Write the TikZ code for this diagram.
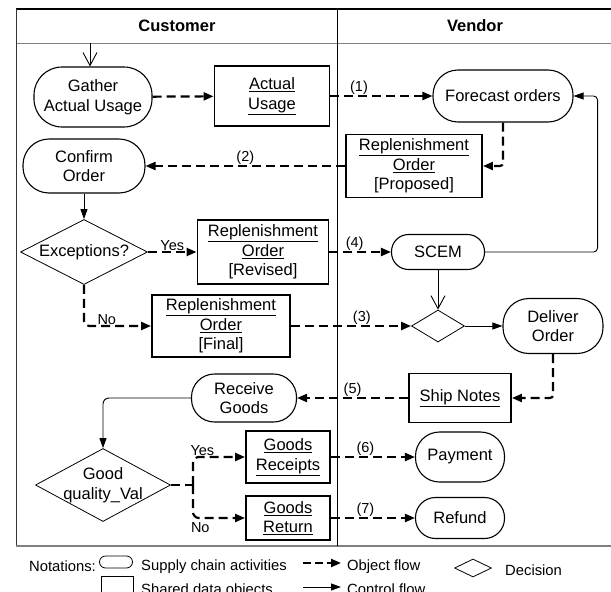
\documentclass[tikz,border=0pt]{standalone}
\usepackage{fontspec}
\setmainfont{Liberation Sans}
\usetikzlibrary{arrows.meta, positioning, shapes.geometric, calc}

\begin{document}
\begin{tikzpicture}[x=1pt,y=-1pt,
    font=\fontsize{16.5}{19.5}\selectfont,
    act/.style={draw,line width=1.1pt,rounded corners=#1,align=center,inner sep=0pt},
    act/.default=24pt,
    data/.style={draw,line width=1.9pt,align=center,inner sep=0pt},
    dec/.style={draw,diamond,line width=0.8pt,inner sep=0pt},
    obj/.style={line width=2.2pt,dash pattern=on 9pt off 5pt,
                -{Triangle[length=10pt,width=8pt]}},
    ctrl/.style={line width=0.9pt,-{Triangle[length=10pt,width=7pt]}},
    open/.style={line width=0.9pt,-{Straight Barb[length=13pt,width=14pt]}},
    lbl/.style={font=\fontsize{14.5}{16}\selectfont,inner sep=0pt},
    lane/.style={font=\bfseries\fontsize{16.5}{19}\selectfont},
    note/.style={font=\fontsize{14.8}{17}\selectfont,inner sep=0pt}
  ]
    \useasboundingbox (0,0) rectangle (611,592);

    % swimlanes
    \draw[line width=1.8pt] (16,9) -- (611,9);
    \draw[gray,line width=1pt] (16,43) -- (611,43);
    \draw[black!80,line width=1pt] (16,9) -- (16,546);
    \draw[gray,line width=1.6pt] (16,546) -- (611,546);
    \draw[line width=0.8pt] (337,9) -- (337,546);
    \node[lane] (cust) at (177,26) {Customer};
    \node[lane] (vend) at (475,26) {Vendor};

    % activities and data objects
    \node[act=28pt,minimum width=118,minimum height=60] (gather) at (93,97) {Gather\\Actual Usage};
    \node[data,minimum width=115,minimum height=60] (usage) at (272,96)
      {\underline{Actual}\\\underline{Usage}};
    \node[act=25pt,minimum width=140,minimum height=52] (forecast) at (503,96) {Forecast orders};
    \node[data,minimum width=136,minimum height=63] (proposed) at (414,166)
      {\underline{Replenishment}\\\underline{Order}\\{[Proposed]}};
    \node[act=26pt,minimum width=122,minimum height=54] (confirm) at (84,166) {Confirm\\Order};
    \node[dec,minimum width=127,minimum height=65,label=center:Exceptions?] (exc) at (84,252) {};
    \node[data,minimum width=131,minimum height=64] (revised) at (263,252)
      {\underline{Replenishment}\\\underline{Order}\\{[Revised]}};
    \node[act=17pt,minimum width=93,minimum height=35] (scem) at (438,252) {SCEM};
    \node[dec,minimum width=53,minimum height=32] (join) at (438,326) {};
    \node[data,minimum width=138,minimum height=62] (final) at (221,326)
      {\underline{Replenishment}\\\underline{Order}\\{[Final]}};
    \node[act=26pt,minimum width=100,minimum height=55] (deliver) at (553,326) {Deliver\\Order};
    \node[data,minimum width=102,minimum height=49] (ship) at (460,398) {\underline{Ship Notes}};
    \node[act=23pt,minimum width=105,minimum height=48] (receive) at (244,398) {Receive\\Goods};
    \node[dec,minimum width=135,minimum height=73,
          label={[align=center]center:Good\\quality\_Val}] (quality) at (103,485) {};
    \node[data,minimum width=84,minimum height=52] (receipts) at (288,457)
      {\underline{Goods}\\\underline{Receipts}};
    \node[data,minimum width=84,minimum height=44] (goodsret) at (288,518)
      {\underline{Goods}\\\underline{Return}};
    \node[act=24pt,minimum width=89,minimum height=50] (payment) at (460,457) {Payment};
    \node[act=20pt,minimum width=89,minimum height=41] (refund) at (460,518) {Refund};

    % flows
    \coordinate (init) at (90,43);
    \draw[open] (init) -- (init |- gather.north);
    \draw[obj] (gather) -- (usage);
    \draw[obj] (usage) -- node[lbl,above,pos=.28] {(1)} (forecast);
    \draw[obj,rounded corners=3pt] (forecast.south) |- (proposed.east);
    \draw[obj] (proposed) -- node[lbl,above] {(2)} (confirm);
    \draw[ctrl] (confirm) -- (exc);
    \draw[obj] (exc.east) -- node[lbl,above] {Yes} (revised.west);
    \draw[obj] (revised) -- node[lbl,above,pos=.41] {(4)} (scem);
    \draw[ctrl,rounded corners=4pt] (scem.east) -| ($(forecast.east)+(24,0)$) -- (forecast.east);
    \draw[open] (scem) -- (join.north);
    \draw[obj,rounded corners=5pt] (exc.south) |- node[lbl,above,pos=.67] {No} (final.west);
    \draw[obj] (final) -- node[lbl,above,pos=.59] {(3)} (join.west);
    \draw[ctrl] (join.east) -- (deliver);
    \draw[obj,rounded corners=3pt] (deliver.south) |- (ship.east);
    \draw[obj] (ship) -- node[lbl,above] {(5)} (receive);
    \draw[ctrl,rounded corners=6pt] (receive.west) -| (quality.north);
    \coordinate (fork) at (193,485);
    \draw[line width=2.2pt,dash pattern=on 9pt off 5pt] (quality.east) -- (fork);
    \draw[obj,rounded corners=6pt] (fork) |- node[lbl,above,pos=.59] {Yes} (receipts.west);
    \draw[obj,rounded corners=6pt] (fork) |- node[lbl,below=3pt,pos=.57] {No} (goodsret.west);
    \draw[obj] (receipts) -- node[lbl,above,pos=.41] {(6)} (payment);
    \draw[obj] (goodsret) -- node[lbl,above,pos=.41] {(7)} (refund);

    % notations
    \node[note,anchor=base east] (notes) at (96,571) {Notations:};
    \node[draw,line width=0.8pt,rounded corners=6pt,minimum width=33,minimum height=12] (keyact) at (116,562) {};
    \node[note,anchor=base west] (keyacttxt) at (141,570) {Supply chain activities};
    \coordinate (objA) at (303,563);
    \coordinate (objB) at (341,563);
    \draw[obj,dash pattern=on 8pt off 4pt] (objA) -- (objB);
    \node[note,anchor=base west] (objtxt) at (347,570) {Object flow};
    \node[dec,minimum width=37,minimum height=18] (keydec) at (473,568) {};
    \node[note,anchor=base west] (dectxt) at (505,575) {Decision};
    \node[draw,line width=0.8pt,minimum width=32,minimum height=28] (keydata) at (117,590) {};
    \node[note,anchor=base west] (datatxt) at (141,594) {Shared data objects};
    \coordinate (ctrlA) at (303,587);
    \coordinate (ctrlB) at (341,587);
    \draw[ctrl] (ctrlA) -- (ctrlB);
    \node[note,anchor=base west] (ctrltxt) at (347,594) {Control flow};
\end{tikzpicture}
\end{document}
